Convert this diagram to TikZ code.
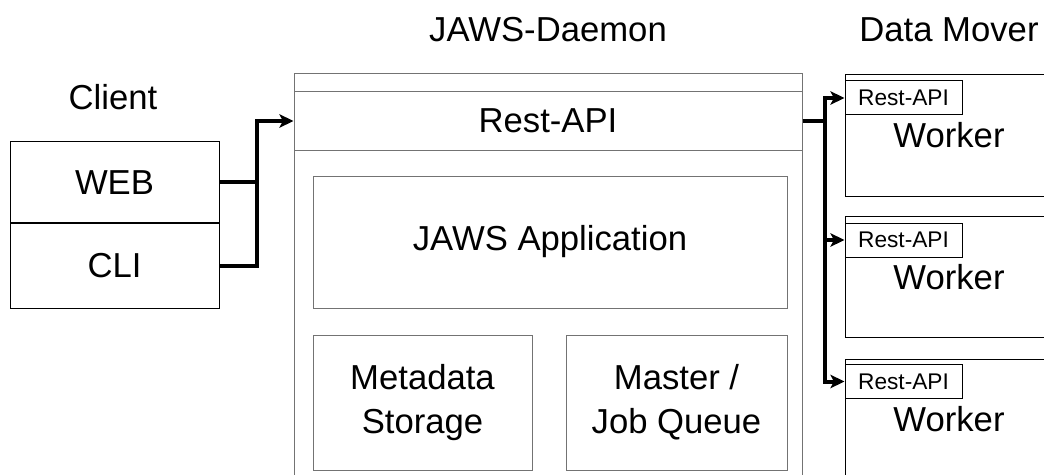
\documentclass[tikz,border=0pt]{standalone}
\usepackage{fontspec}
\setmainfont{Liberation Sans}
\usetikzlibrary{arrows.meta, positioning}

\begin{document}
\begin{tikzpicture}[
    x=0.75pt, y=-0.75pt,
    box/.style={draw, rectangle, align=center, inner sep=0pt, line width=0.75pt, font=\fontsize{26}{33}\selectfont},
    dbox/.style={box, draw=black!55},
    api/.style={draw, rectangle, inner sep=0pt, line width=0.75pt, minimum width=87.75pt, minimum height=25.5pt, font=\fontsize{17}{20}\selectfont},
    ttl/.style={font=\fontsize{26}{33}\selectfont},
    wire/.style={line width=3pt},
    link/.style={wire, -{Stealth[length=10.5pt, width=10pt, inset=2.5pt]}}
]
\useasboundingbox (0,0) rectangle (1044,474);
\clip (0,0) rectangle (1044,474);

\node[ttl] (clt) at (113,97) {Client};
\node[ttl] (dmn) at (548,30) {JAWS-Daemon};
\node[ttl] (dmv) at (949,30) {Data Mover};

\node[box, minimum width=156.75pt, minimum height=61.1pt]  (web) at (114.5,182.25) {WEB};
\node[box, minimum width=156.75pt, minimum height=63.75pt] (cli) at (114.5,265.5)  {CLI};

\node[dbox, minimum width=381pt, minimum height=334.5pt] (daemon) at (548,297) {};
\node[dbox, minimum width=381pt, minimum height=43.5pt]  (restd)  at (548,121) {Rest-API};
\node[dbox, minimum width=355.5pt, minimum height=99pt]  (app)    at (550,242) {JAWS Application};
\node[dbox, minimum width=164.25pt, minimum height=101.25pt] (meta)  at (422.5,402.5) {Metadata\\Storage};
\node[dbox, minimum width=165.75pt, minimum height=101.25pt] (queue) at (676.5,402.5) {Master /\\Job Queue};

\node[box, minimum width=156pt, minimum height=90.75pt] (wk1) at (949,135.5) {Worker};
\node[box, minimum width=156pt, minimum height=90.75pt] (wk2) at (949,277)   {Worker};
\node[box, minimum width=156pt, minimum height=90.75pt] (wk3) at (949,419.5) {Worker};
\node[api] (api1) at (903.5,98)    {Rest-API};
\node[api] (api2) at (903.5,240)   {Rest-API};
\node[api] (api3) at (903.5,381.5) {Rest-API};

\coordinate (cj) at (257,121);
\coordinate (dj) at (825,121);

\draw[wire] (web.east) -- (web.east -| cj);
\draw[link] (cli.east) -| (cj) -- (restd.west);
\draw[wire] (restd.east) -- (dj);
\draw[link] (dj) |- (api1.west);
\draw[link] (dj) |- (api2.west);
\draw[link] (dj) |- (api3.west);
\end{tikzpicture}
\end{document}
